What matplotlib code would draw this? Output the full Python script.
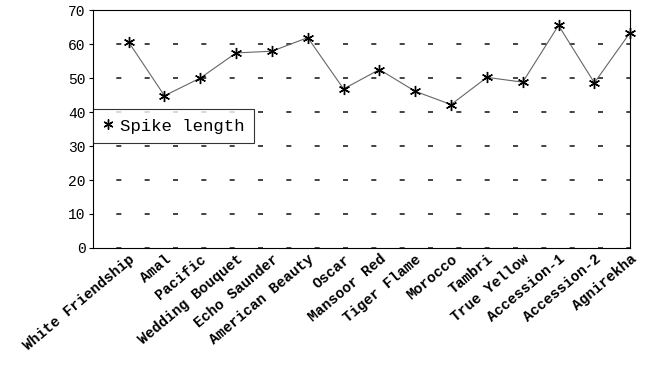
import matplotlib.pyplot as plt

# Spike length per genotype
genotypes = ['White Friendship', 'Amal', 'Pacific', 'Wedding Bouquet', 'Echo Saunder',
             'American Beauty', 'Oscar', 'Mansoor Red', 'Tiger Flame', 'Morocco',
             'Tambri', 'True Yellow', 'Accession-1', 'Accession-2', 'Agnirekha']
spike_length = [60.6, 44.8, 50.0, 57.4, 57.9, 61.9, 46.8, 52.5, 46.1, 42.2,
                50.2, 48.8, 65.5, 48.6, 63.4]
yticks = [0, 10, 20, 30, 40, 50, 60, 70]

plt.rcParams['font.family'] = ['Liberation Mono', 'DejaVu Sans']

fig = plt.figure(figsize=(6.49, 3.74), dpi=100)
ax = fig.add_axes([0.143, 0.337, 0.828, 0.636])

x = list(range(len(genotypes)))
ax.plot(x, spike_length, color='#666666', lw=0.8, marker=(6, 2, 0),
        markersize=8, markeredgecolor='black', markeredgewidth=1.0,
        label='Spike length', clip_on=False)

ax.set_xlim(-1, len(genotypes) - 1)
ax.set_ylim(0, 70)
ax.set_yticks(yticks)
ax.set_yticklabels([str(t) for t in yticks], fontsize=10.5)
ax.set_xticks(x)
ax.set_xticklabels(genotypes, rotation=40, ha='right', rotation_mode='anchor',
                   fontsize=10.5, fontweight='bold')
ax.tick_params(axis='x', length=0, pad=3)
ax.tick_params(axis='y', length=3, direction='out', pad=2)

ax.yaxis.grid(True, linestyle=(3, (3, 14)), color='#222222', lw=1.2)
ax.set_axisbelow(True)
for s in ax.spines.values():
    s.set_linewidth(0.8)
    s.set_color('black')
ax.spines['left'].set_linestyle((0, (3, 1)))
ax.spines['right'].set_linestyle((0, (3, 1)))

leg = ax.legend(loc='upper left', bbox_to_anchor=(0.0, 0.585), fontsize=12.5,
                frameon=True, fancybox=False, handlelength=0.7, handletextpad=0.3,
                borderpad=0.55, borderaxespad=0, markerscale=0.9)
leg.get_frame().set_edgecolor('black')
leg.get_frame().set_linewidth(0.8)
for h in leg.legend_handles:
    h.set_linestyle('none')

fig.savefig('out.png', dpi=100)
